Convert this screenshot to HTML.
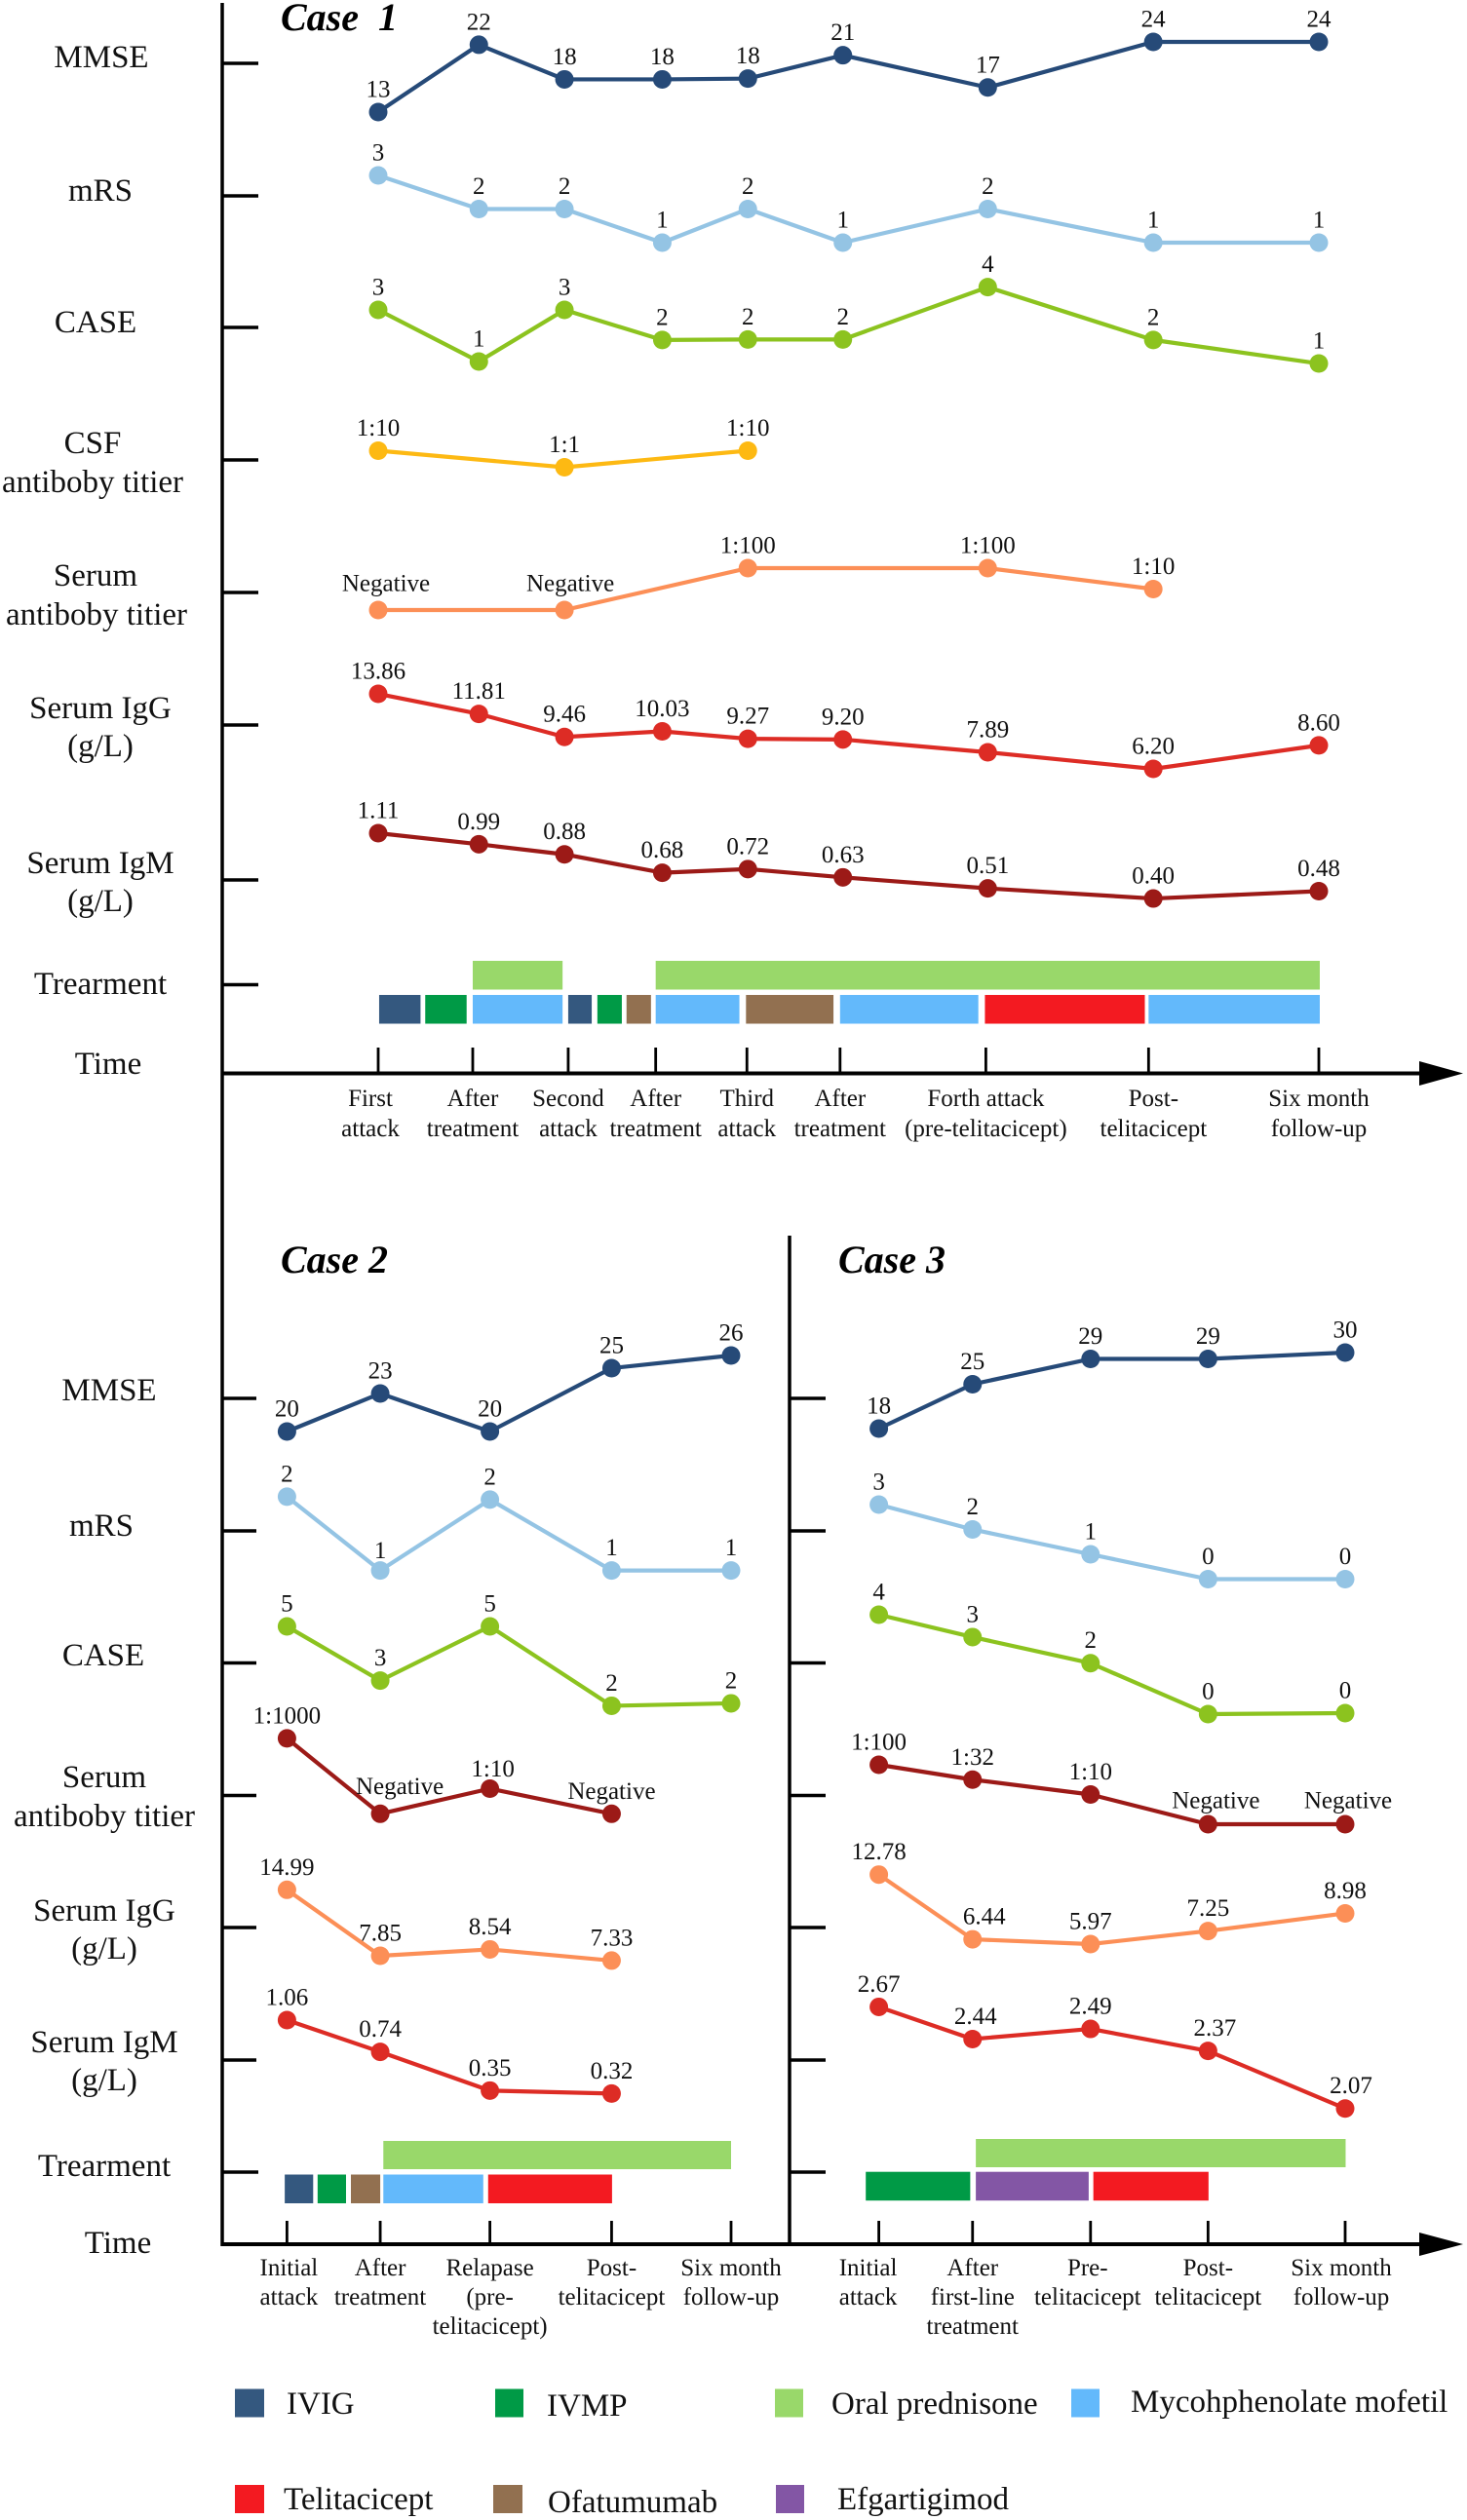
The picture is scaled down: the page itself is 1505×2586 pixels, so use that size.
<!DOCTYPE html>
<html lang="en">
<head>
<meta charset="utf-8">
<title>Clinical course of Case 1, Case 2 and Case 3</title>
<style>
html,body{margin:0;padding:0;background:#fff;}
svg{display:block;}
text{font-family:"Liberation Serif","Times New Roman",serif;fill:#111;}
.row{font-size:33px;text-anchor:middle;}
.leg{font-size:33px;}
.title{font-size:40px;font-weight:bold;font-style:italic;fill:#000;white-space:pre;}
.val{font-size:25px;text-anchor:middle;}
.cat{font-size:25px;text-anchor:middle;}
</style>
</head>
<body>
<svg id="chart" xmlns="http://www.w3.org/2000/svg" width="1505" height="2586" viewBox="0 0 1505 2586">
  <rect x="0" y="0" width="1505" height="2586" fill="#fff"/>

  <g stroke="#000" fill="none">
    <line x1="228" y1="3" x2="228" y2="2305" stroke-width="3.5"/>
    <line x1="810" y1="1268" x2="810" y2="2305" stroke-width="3.5"/>
    <line x1="228" y1="1101.5" x2="1460" y2="1101.5" stroke-width="4"/>
    <line x1="228" y1="2303" x2="1460" y2="2303" stroke-width="4"/>
  </g>
  <polygon points="1456,1089 1501,1101.5 1456,1114" fill="#000"/>
  <polygon points="1456,2291 1501,2303 1456,2315" fill="#000"/>

  <g stroke="#000" stroke-width="3.5">
    <line x1="228" y1="65" x2="265" y2="65"/>
    <line x1="228" y1="201" x2="265" y2="201"/>
    <line x1="228" y1="336" x2="265" y2="336"/>
    <line x1="228" y1="472" x2="265" y2="472"/>
    <line x1="228" y1="608" x2="265" y2="608"/>
    <line x1="228" y1="744" x2="265" y2="744"/>
    <line x1="228" y1="903" x2="265" y2="903"/>
    <line x1="228" y1="1010.5" x2="265" y2="1010.5"/>
  </g>
  <g stroke="#000" stroke-width="3.5">
    <line x1="228" y1="1435" x2="263" y2="1435"/>
    <line x1="228" y1="1571" x2="263" y2="1571"/>
    <line x1="228" y1="1706.5" x2="263" y2="1706.5"/>
    <line x1="228" y1="1842.5" x2="263" y2="1842.5"/>
    <line x1="228" y1="1978" x2="263" y2="1978"/>
    <line x1="228" y1="2114" x2="263" y2="2114"/>
    <line x1="228" y1="2229" x2="265" y2="2229"/>
  </g>
  <g stroke="#000" stroke-width="3.5">
    <line x1="810" y1="1435" x2="847" y2="1435"/>
    <line x1="810" y1="1571" x2="847" y2="1571"/>
    <line x1="810" y1="1706.5" x2="847" y2="1706.5"/>
    <line x1="810" y1="1842.5" x2="847" y2="1842.5"/>
    <line x1="810" y1="1978" x2="847" y2="1978"/>
    <line x1="810" y1="2114" x2="847" y2="2114"/>
    <line x1="810" y1="2229" x2="847" y2="2229"/>
  </g>

  <text class="title" x="288" y="31" xml:space="preserve">Case  1</text>
  <text class="title" x="288" y="1306">Case 2</text>
  <text class="title" x="860" y="1306">Case 3</text>

  <g>
    <text class="row" x="104" y="69">MMSE</text>
    <text class="row" x="103" y="206">mRS</text>
    <text class="row" x="98" y="341">CASE</text>
    <text class="row" x="95" y="465">CSF</text>
    <text class="row" x="95" y="505">antiboby titier</text>
    <text class="row" x="98" y="601">Serum</text>
    <text class="row" x="99" y="641">antiboby titier</text>
    <text class="row" x="103" y="737">Serum IgG</text>
    <text class="row" x="103" y="776">(g/L)</text>
    <text class="row" x="103" y="896">Serum IgM</text>
    <text class="row" x="103" y="935">(g/L)</text>
    <text class="row" x="103" y="1020">Trearment</text>
    <text class="row" x="111" y="1102">Time</text>
  </g>
  <g>
    <text class="row" x="112" y="1437">MMSE</text>
    <text class="row" x="104" y="1576">mRS</text>
    <text class="row" x="106" y="1709">CASE</text>
    <text class="row" x="107" y="1834">Serum</text>
    <text class="row" x="107" y="1874">antiboby titier</text>
    <text class="row" x="107" y="1971">Serum IgG</text>
    <text class="row" x="107" y="2010">(g/L)</text>
    <text class="row" x="107" y="2106">Serum IgM</text>
    <text class="row" x="107" y="2145">(g/L)</text>
    <text class="row" x="107" y="2233">Trearment</text>
    <text class="row" x="121" y="2312">Time</text>
  </g>

  <g id="marks"></g>

  <g>
    <g>
      <rect x="241" y="2451.5" width="30" height="29" fill="#34587f"/>
      <text class="leg" x="294" y="2477">IVIG</text>
    </g>
    <g>
      <rect x="508" y="2451.5" width="29" height="29" fill="#009a46"/>
      <text class="leg" x="561" y="2479">IVMP</text>
    </g>
    <g>
      <rect x="795" y="2451.5" width="29" height="29" fill="#99d86a"/>
      <text class="leg" x="853" y="2477">Oral prednisone</text>
    </g>
    <g>
      <rect x="1099" y="2451.5" width="29" height="29" fill="#63b9fb"/>
      <text class="leg" x="1160" y="2475">Mycohphenolate mofetil</text>
    </g>
    <g>
      <rect x="241" y="2550" width="30" height="29" fill="#f31a21"/>
      <text class="leg" x="291" y="2575">Telitacicept</text>
    </g>
    <g>
      <rect x="506" y="2550" width="30" height="29" fill="#927050"/>
      <text class="leg" x="562" y="2578">Ofatumumab</text>
    </g>
    <g>
      <rect x="796" y="2550" width="29" height="29" fill="#8356a5"/>
      <text class="leg" x="859" y="2575">Efgartigimod</text>
    </g>
  </g>
</svg>

<script>
// ---- Timeline positions: percent of each case's timeline ----
const case1Timeline = [0, 10.7, 19.8, 30.2, 39.3, 49.4, 64.8, 82.4, 100];
const case1TickTimeline = [0, 10.05, 20.2, 29.5, 39.2, 49.1, 64.6, 81.9, 100];
const case2Timeline = [0, 21, 45.7, 73.1, 100];
const case3Timeline = [0, 20.1, 45.4, 70.6, 100];

// ---- Categories ----
const case1Categories = [["First","attack"],["After","treatment"],["Second","attack"],["After","treatment"],["Third","attack"],["After","treatment"],["Forth attack","(pre-telitacicept)"],["Post-","telitacicept"],["Six month","follow-up"]];
const case2Categories = [["Initial","attack"],["After","treatment"],["Relapase","(pre-","telitacicept)"],["Post-","telitacicept"],["Six month","follow-up"]];
const case3Categories = [["Initial","attack"],["After","first-line","treatment"],["Pre-","telitacicept"],["Post-","telitacicept"],["Six month","follow-up"]];

const case1MmseValues = [13.84, 22.4, 18, 18, 18.1, 21.07, 16.97, 22.76, 22.76];
const case1MmseLabels = ["13","22","18","18","18","21","17","24","24"];
const case1MrsValues = [3, 2, 2, 1, 2, 1, 2, 1, 1];
const case1MrsLabels = ["3","2","2","1","2","1","2","1","1"];
const case1CaseValues = [3.1, 1.04, 3.1, 1.9, 1.92, 1.92, 4.01, 1.9, 0.96];
const case1CaseLabels = ["3","1","3","2","2","2","4","2","1"];
const case1CsfValues = [1, null, 0, null, 1, null, null, null, null];
const case1CsfLabels = ["1:10","","1:1","","1:10","","","",""];
const case1SerumValues = [0, null, 0, null, 2, null, 2, 1, null];
const case1SerumLabels = ["Negative","","Negative","","1:100","","1:100","1:10",""];
const case1IggValues = [13.86, 11.81, 9.46, 10.03, 9.27, 9.20, 7.89, 6.20, 8.60];
const case1IggLabels = ["13.86","11.81","9.46","10.03","9.27","9.20","7.89","6.20","8.60"];
const case1IgmValues = [1.11, 0.99, 0.88, 0.68, 0.72, 0.63, 0.51, 0.40, 0.48];
const case1IgmLabels = ["1.11","0.99","0.88","0.68","0.72","0.63","0.51","0.40","0.48"];

// ---- Case 2 ----
const case2MmseValues = [20, 23, 20, 25, 26];
const case2MmseLabels = ["20","23","20","25","26"];
const case2MrsValues = [2.01, 1, 1.97, 1, 1];
const case2MrsLabels = ["2","1","2","1","1"];
const case2CaseValues = [5, 3, 5, 2.07, 2.16];
const case2CaseLabels = ["5","3","5","2","2"];
const case2SerumValues = [3, 0, 1, 0, null];
const case2SerumLabels = ["1:1000","Negative","1:10","Negative",""];
const case2IggValues = [14.99, 7.85, 8.54, 7.33, null];
const case2IggLabels = ["14.99","7.85","8.54","7.33",""];
const case2IgmValues = [1.06, 0.74, 0.35, 0.32, null];
const case2IgmLabels = ["1.06","0.74","0.35","0.32",""];

// ---- Case 3 ----
const case3MmseValues = [18, 25, 29, 29, 30];
const case3MmseLabels = ["18","25","29","29","30"];
const case3MrsValues = [3, 2, 1, 0, 0];
const case3MrsLabels = ["3","2","1","0","0"];
const case3CaseValues = [4, 3.1, 2.05, 0, 0.04];
const case3CaseLabels = ["4","3","2","0","0"];
const case3SerumValues = [2, 1.5, 1, 0, 0];
const case3SerumLabels = ["1:100","1:32","1:10","Negative","Negative"];
const case3IggValues = [12.78, 6.44, 5.97, 7.25, 8.98];
const case3IggLabels = ["12.78","6.44","5.97","7.25","8.98"];
const case3IgmValues = [2.67, 2.48, 2.54, 2.41, 2.07];
const case3IgmLabels = ["2.67","2.44","2.49","2.37","2.07"];

// ---- Treatment periods: [drug, start %, end %] on each case's timeline ----
const case1OralPeriods = [["oral",10.05,19.6],["oral",29.5,100.1]];
const case1DrugPeriods = [["ivig",0.1,4.5],["ivmp",5,9.4],["mmf",10.05,19.6],["ivig",20.2,22.7],["ivmp",23.3,25.9],["ofa",26.4,29],["mmf",29.5,38.4],["ofa",39.1,48.4],["mmf",49.1,63.8],["tel",64.5,81.5],["mmf",81.9,100.1]];
const case2OralPeriods = [["oral",21.7,100]];
const case2DrugPeriods = [["ivig",-0.5,5.9],["ivmp",6.9,13.3],["ofa",14.4,21],["mmf",21.7,44.2],["tel",45.3,73.2]];
const case3OralPeriods = [["oral",20.8,100.1]];
const case3DrugPeriods = [["ivmp",-2.8,19.6],["efg",20.8,45],["tel",46,70.7]];

// ---- Styling and axis setup ----
const drugColors = {ivig:"#34587f",ivmp:"#009a46",oral:"#99d86a",mmf:"#63b9fb",tel:"#f31a21",ofa:"#927050",efg:"#8356a5"};
const C = {navy:"#264a78",sky:"#94c4e4",lime:"#8cc31f",amber:"#fdb913",orange:"#fc8f57",red:"#dd2c25",dark:"#9c1a17"};

const panels = [
  {name:"case-1", x0:388, k:9.65, timeline:case1Timeline, ticks:case1TickTimeline, categories:case1Categories,
   axisY:1101.5, tickTop:1075, catY:1135, catStep:31, catNudge:{0:-8,7:5},
   oral:case1OralPeriods, oralY:986, oralH:29.5, drugs:case1DrugPeriods, drugY:1021, drugH:29.5,
   series:[
    {key:"mmse", values:case1MmseValues, labels:case1MmseLabels, base:226.7, unit:8.07, color:C.navy},
    {key:"mrs", values:case1MrsValues, labels:case1MrsLabels, base:283.5, unit:34.5, color:C.sky},
    {key:"case-score", values:case1CaseValues, labels:case1CaseLabels, base:397.7, unit:25.7, color:C.lime},
    {key:"csf-titer", values:case1CsfValues, labels:case1CsfLabels, base:479.5, unit:17, color:C.amber},
    {key:"serum-titer", values:case1SerumValues, labels:case1SerumLabels, base:626, unit:21.5, color:C.orange, nudge:{0:[8,-4],2:[6,-4]}},
    {key:"igg", values:case1IggValues, labels:case1IggLabels, base:851.3, unit:10.05, color:C.red},
    {key:"igm", values:case1IgmValues, labels:case1IgmLabels, base:959.8, unit:94.4, color:C.dark}
   ]},
  {name:"case-2", x0:294.4, k:4.556, timeline:case2Timeline, ticks:case2Timeline, categories:case2Categories,
   axisY:2303, tickTop:2279, catY:2335, catStep:30, catNudge:{0:2},
   oral:case2OralPeriods, oralY:2197, oralH:29, drugs:case2DrugPeriods, drugY:2231.5, drugH:29.5,
   series:[
    {key:"mmse", values:case2MmseValues, labels:case2MmseLabels, base:1729, unit:13, color:C.navy},
    {key:"mrs", values:case2MrsValues, labels:case2MrsLabels, base:1686.6, unit:75, color:C.sky, nudge:{1:[0,3]}},
    {key:"case-score", values:case2CaseValues, labels:case2CaseLabels, base:1808, unit:27.8, color:C.lime},
    {key:"serum-titer", values:case2SerumValues, labels:case2SerumLabels, base:1861.3, unit:25.8, color:C.dark, nudge:{1:[20,-5],2:[3,3]}},
    {key:"igg", values:case2IggValues, labels:case2IggLabels, base:2081.4, unit:9.48, color:C.orange},
    {key:"igm", values:case2IgmValues, labels:case2IgmLabels, base:2181, unit:101.9, color:C.red}
   ]},
  {name:"case-3", x0:901.6, k:4.784, timeline:case3Timeline, ticks:case3Timeline, categories:case3Categories,
   axisY:2303, tickTop:2279, catY:2335, catStep:30, catNudge:{0:-11,2:-3,4:-4},
   oral:case3OralPeriods, oralY:2195, oralH:29, drugs:case3DrugPeriods, drugY:2228.7, drugH:29.5,
   series:[
    {key:"mmse", values:case3MmseValues, labels:case3MmseLabels, base:1583, unit:6.5, color:C.navy},
    {key:"mrs", values:case3MrsValues, labels:case3MrsLabels, base:1620.5, unit:25.5, color:C.sky},
    {key:"case-score", values:case3CaseValues, labels:case3CaseLabels, base:1759, unit:25.5, color:C.lime},
    {key:"serum-titer", values:case3SerumValues, labels:case3SerumLabels, base:1872, unit:30.5, color:C.dark, nudge:{3:[8,-1],4:[3,-1]}},
    {key:"igg", values:case3IggValues, labels:case3IggLabels, base:2057.5, unit:10.47, color:C.orange, nudge:{1:[12,0]}},
    {key:"igm", values:case3IgmValues, labels:case3IgmLabels, base:2523.5, unit:173.8, color:C.red, nudge:{1:[3,0],3:[7,0],4:[6,0]}}
   ]}
];

const NS = "http://www.w3.org/2000/svg";
const root = document.getElementById("marks");
function make(tag, parent){
  const el = document.createElementNS(NS, tag);
  parent.appendChild(el);
  return el;
}
function xAxis(panel, t){ return panel.x0 + panel.k * t; }
function yAxis(series, v){ return series.base - series.unit * v; }

function drawBars(panel, periods, y, h, group){
  periods.forEach(function(p){
    const r = make("rect", group);
    
    
    r.setAttribute("x", xAxis(panel, p[1]));
    r.setAttribute("y", y);
    r.setAttribute("width", xAxis(panel, p[2]) - xAxis(panel, p[1]));
    r.setAttribute("height", h);
    r.setAttribute("fill", drugColors[p[0]]);
  });
}

panels.forEach(function(panel){
  const g = make("g", root);
  
  

  panel.series.forEach(function(s){
    const sg = make("g", g);
    
    

    const pts = [];
    s.values.forEach(function(v, i){
      if (v !== null) pts.push([xAxis(panel, panel.timeline[i]), yAxis(s, v), i]);
    });

    const line = make("polyline", sg);
    
    
    line.setAttribute("points", pts.map(function(p){ return p[0] + "," + p[1]; }).join(" "));
    line.setAttribute("fill", "none");
    line.setAttribute("stroke", s.color);
    line.setAttribute("stroke-width", "4.2");
    line.setAttribute("stroke-linejoin", "round");

    pts.forEach(function(p){
      const dot = make("circle", sg);
      
      
      dot.setAttribute("cx", p[0]);
      dot.setAttribute("cy", p[1]);
      dot.setAttribute("r", "9.5");
      dot.setAttribute("fill", s.color);

      const n = (s.nudge && s.nudge[p[2]]) || [0, 0];
      const label = make("text", sg);
      
      
      label.setAttribute("class", "val");
      label.setAttribute("x", p[0] + n[0]);
      label.setAttribute("y", p[1] - 15.5 + n[1]);
      label.textContent = s.labels[p[2]];
    });
  });

  const bars = make("g", g);
  
  
  drawBars(panel, panel.oral, panel.oralY, panel.oralH, bars);
  drawBars(panel, panel.drugs, panel.drugY, panel.drugH, bars);

  panel.ticks.forEach(function(t, i){
    const x = xAxis(panel, t);
    const tick = make("line", g);
    
    
    tick.setAttribute("x1", x);
    tick.setAttribute("x2", x);
    tick.setAttribute("y1", panel.tickTop);
    tick.setAttribute("y2", panel.axisY);
    tick.setAttribute("stroke", "#000");
    tick.setAttribute("stroke-width", "2.8");

    panel.categories[i].forEach(function(str, j){
      const cat = make("text", g);
      
      
      cat.setAttribute("class", "cat");
      cat.setAttribute("x", x + (panel.catNudge[i] || 0));
      cat.setAttribute("y", panel.catY + j * panel.catStep);
      cat.textContent = str;
    });
  });
});
</script>
</body>
</html>
